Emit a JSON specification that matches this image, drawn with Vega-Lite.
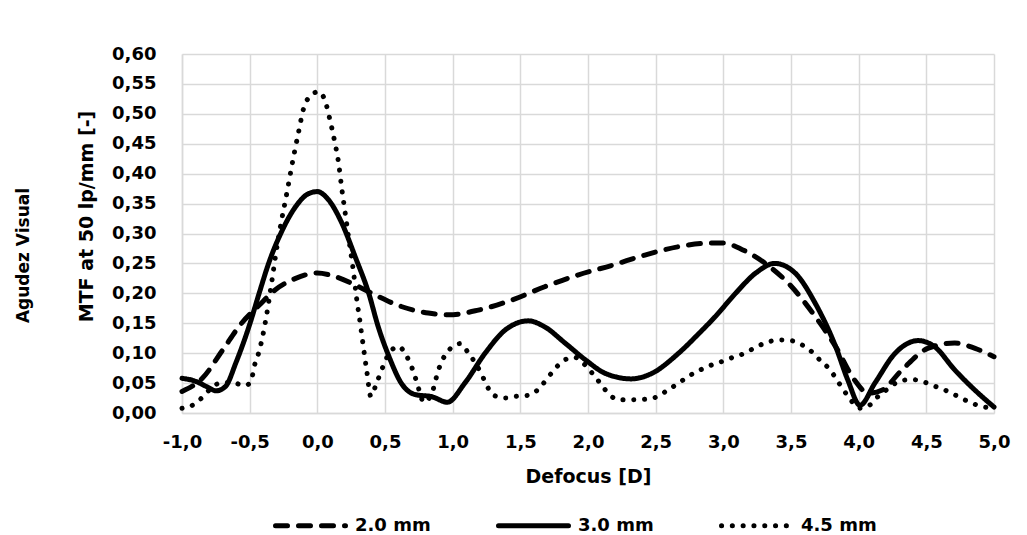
{
  "$schema": "https://vega.github.io/schema/vega-lite/v6.json",
  "width": 812,
  "height": 359,
  "autosize": {"type": "none"},
  "padding": {"left": 182, "top": 54, "right": 33, "bottom": 122},
  "background": "white",
  "title": {
    "text": "Agudez Visual",
    "orient": "left",
    "anchor": "middle",
    "frame": "group",
    "offset": 44,
    "dx": -22,
    "font": "DejaVu Sans",
    "fontSize": 17,
    "fontWeight": "bold",
    "color": "#000000"
  },
  "config": {
    "locale": {"number": {"decimal": ",", "thousands": ".", "grouping": [3], "currency": ["", " €"], "minus": "-"}},
    "view": {"stroke": null},
    "axis": {
      "labelFont": "DejaVu Sans",
      "labelFontSize": 18,
      "labelFontWeight": "bold",
      "labelColor": "#000000",
      "labelOverlap": false,
      "labelFlush": false,
      "titleFont": "DejaVu Sans",
      "titleFontSize": 19,
      "titleFontWeight": "bold",
      "titleColor": "#000000",
      "grid": true,
      "gridColor": "#d9d9d9",
      "gridWidth": 1.5,
      "domainColor": "#d9d9d9",
      "domainWidth": 1.5,
      "ticks": false,
      "tickSize": 0
    },
    "legend": {
      "labelFont": "DejaVu Sans",
      "labelFontSize": 18,
      "labelFontWeight": "bold",
      "labelColor": "#000000"
    }
  },
  "data": {
    "values": [
      {"d": -1.0, "mtf": 0.036, "s": "2.0 mm"},
      {"d": -0.85, "mtf": 0.058, "s": "2.0 mm"},
      {"d": -0.7, "mtf": 0.105, "s": "2.0 mm"},
      {"d": -0.56, "mtf": 0.15, "s": "2.0 mm"},
      {"d": -0.43, "mtf": 0.18, "s": "2.0 mm"},
      {"d": -0.31, "mtf": 0.206, "s": "2.0 mm"},
      {"d": -0.16, "mtf": 0.225, "s": "2.0 mm"},
      {"d": 0.0, "mtf": 0.234, "s": "2.0 mm"},
      {"d": 0.13, "mtf": 0.228, "s": "2.0 mm"},
      {"d": 0.28, "mtf": 0.214, "s": "2.0 mm"},
      {"d": 0.43, "mtf": 0.197, "s": "2.0 mm"},
      {"d": 0.62, "mtf": 0.178, "s": "2.0 mm"},
      {"d": 0.82, "mtf": 0.167, "s": "2.0 mm"},
      {"d": 0.97, "mtf": 0.164, "s": "2.0 mm"},
      {"d": 1.19, "mtf": 0.172, "s": "2.0 mm"},
      {"d": 1.44, "mtf": 0.189, "s": "2.0 mm"},
      {"d": 1.68, "mtf": 0.211, "s": "2.0 mm"},
      {"d": 1.93, "mtf": 0.231, "s": "2.0 mm"},
      {"d": 2.18, "mtf": 0.247, "s": "2.0 mm"},
      {"d": 2.42, "mtf": 0.264, "s": "2.0 mm"},
      {"d": 2.67, "mtf": 0.278, "s": "2.0 mm"},
      {"d": 2.91, "mtf": 0.284, "s": "2.0 mm"},
      {"d": 3.0, "mtf": 0.284, "s": "2.0 mm"},
      {"d": 3.14, "mtf": 0.273, "s": "2.0 mm"},
      {"d": 3.31, "mtf": 0.25, "s": "2.0 mm"},
      {"d": 3.48, "mtf": 0.217, "s": "2.0 mm"},
      {"d": 3.68, "mtf": 0.161, "s": "2.0 mm"},
      {"d": 3.83, "mtf": 0.111, "s": "2.0 mm"},
      {"d": 3.97, "mtf": 0.055, "s": "2.0 mm"},
      {"d": 4.07, "mtf": 0.033, "s": "2.0 mm"},
      {"d": 4.17, "mtf": 0.038, "s": "2.0 mm"},
      {"d": 4.32, "mtf": 0.072, "s": "2.0 mm"},
      {"d": 4.51, "mtf": 0.108, "s": "2.0 mm"},
      {"d": 4.71, "mtf": 0.117, "s": "2.0 mm"},
      {"d": 4.86, "mtf": 0.108, "s": "2.0 mm"},
      {"d": 5.0, "mtf": 0.094, "s": "2.0 mm"},

      {"d": -1.0, "mtf": 0.058, "s": "3.0 mm"},
      {"d": -0.9, "mtf": 0.053, "s": "3.0 mm"},
      {"d": -0.8, "mtf": 0.042, "s": "3.0 mm"},
      {"d": -0.75, "mtf": 0.037, "s": "3.0 mm"},
      {"d": -0.68, "mtf": 0.044, "s": "3.0 mm"},
      {"d": -0.6, "mtf": 0.085, "s": "3.0 mm"},
      {"d": -0.5, "mtf": 0.148, "s": "3.0 mm"},
      {"d": -0.43, "mtf": 0.2, "s": "3.0 mm"},
      {"d": -0.36, "mtf": 0.25, "s": "3.0 mm"},
      {"d": -0.26, "mtf": 0.305, "s": "3.0 mm"},
      {"d": -0.16, "mtf": 0.345, "s": "3.0 mm"},
      {"d": -0.07, "mtf": 0.366, "s": "3.0 mm"},
      {"d": 0.0, "mtf": 0.37, "s": "3.0 mm"},
      {"d": 0.08, "mtf": 0.357, "s": "3.0 mm"},
      {"d": 0.18, "mtf": 0.318, "s": "3.0 mm"},
      {"d": 0.28, "mtf": 0.261, "s": "3.0 mm"},
      {"d": 0.38, "mtf": 0.2, "s": "3.0 mm"},
      {"d": 0.45, "mtf": 0.144, "s": "3.0 mm"},
      {"d": 0.53, "mtf": 0.094, "s": "3.0 mm"},
      {"d": 0.62, "mtf": 0.05, "s": "3.0 mm"},
      {"d": 0.72, "mtf": 0.031, "s": "3.0 mm"},
      {"d": 0.85, "mtf": 0.027, "s": "3.0 mm"},
      {"d": 0.96, "mtf": 0.018, "s": "3.0 mm"},
      {"d": 1.09, "mtf": 0.05, "s": "3.0 mm"},
      {"d": 1.24, "mtf": 0.1, "s": "3.0 mm"},
      {"d": 1.39, "mtf": 0.139, "s": "3.0 mm"},
      {"d": 1.56, "mtf": 0.154, "s": "3.0 mm"},
      {"d": 1.68, "mtf": 0.144, "s": "3.0 mm"},
      {"d": 1.83, "mtf": 0.117, "s": "3.0 mm"},
      {"d": 1.98, "mtf": 0.089, "s": "3.0 mm"},
      {"d": 2.13, "mtf": 0.066, "s": "3.0 mm"},
      {"d": 2.32, "mtf": 0.057, "s": "3.0 mm"},
      {"d": 2.47, "mtf": 0.066, "s": "3.0 mm"},
      {"d": 2.67, "mtf": 0.1, "s": "3.0 mm"},
      {"d": 2.82, "mtf": 0.133, "s": "3.0 mm"},
      {"d": 2.94, "mtf": 0.161, "s": "3.0 mm"},
      {"d": 3.09, "mtf": 0.2, "s": "3.0 mm"},
      {"d": 3.24, "mtf": 0.234, "s": "3.0 mm"},
      {"d": 3.38, "mtf": 0.25, "s": "3.0 mm"},
      {"d": 3.53, "mtf": 0.234, "s": "3.0 mm"},
      {"d": 3.68, "mtf": 0.183, "s": "3.0 mm"},
      {"d": 3.83, "mtf": 0.111, "s": "3.0 mm"},
      {"d": 3.92, "mtf": 0.055, "s": "3.0 mm"},
      {"d": 4.01, "mtf": 0.013, "s": "3.0 mm"},
      {"d": 4.12, "mtf": 0.05, "s": "3.0 mm"},
      {"d": 4.27, "mtf": 0.1, "s": "3.0 mm"},
      {"d": 4.44, "mtf": 0.121, "s": "3.0 mm"},
      {"d": 4.56, "mtf": 0.111, "s": "3.0 mm"},
      {"d": 4.71, "mtf": 0.072, "s": "3.0 mm"},
      {"d": 4.86, "mtf": 0.038, "s": "3.0 mm"},
      {"d": 5.0, "mtf": 0.01, "s": "3.0 mm"},

      {"d": -1.0, "mtf": 0.008, "s": "4.5 mm"},
      {"d": -0.94, "mtf": 0.011, "s": "4.5 mm"},
      {"d": -0.865, "mtf": 0.023, "s": "4.5 mm"},
      {"d": -0.8, "mtf": 0.038, "s": "4.5 mm"},
      {"d": -0.72, "mtf": 0.05, "s": "4.5 mm"},
      {"d": -0.63, "mtf": 0.051, "s": "4.5 mm"},
      {"d": -0.54, "mtf": 0.046, "s": "4.5 mm"},
      {"d": -0.496, "mtf": 0.05, "s": "4.5 mm"},
      {"d": -0.46, "mtf": 0.083, "s": "4.5 mm"},
      {"d": -0.434, "mtf": 0.1, "s": "4.5 mm"},
      {"d": -0.41, "mtf": 0.122, "s": "4.5 mm"},
      {"d": -0.377, "mtf": 0.161, "s": "4.5 mm"},
      {"d": -0.335, "mtf": 0.222, "s": "4.5 mm"},
      {"d": -0.306, "mtf": 0.267, "s": "4.5 mm"},
      {"d": -0.27, "mtf": 0.315, "s": "4.5 mm"},
      {"d": -0.225, "mtf": 0.368, "s": "4.5 mm"},
      {"d": -0.176, "mtf": 0.428, "s": "4.5 mm"},
      {"d": -0.14, "mtf": 0.468, "s": "4.5 mm"},
      {"d": -0.1, "mtf": 0.51, "s": "4.5 mm"},
      {"d": -0.06, "mtf": 0.528, "s": "4.5 mm"},
      {"d": 0.01, "mtf": 0.537, "s": "4.5 mm"},
      {"d": 0.06, "mtf": 0.52, "s": "4.5 mm"},
      {"d": 0.088, "mtf": 0.495, "s": "4.5 mm"},
      {"d": 0.125, "mtf": 0.457, "s": "4.5 mm"},
      {"d": 0.157, "mtf": 0.418, "s": "4.5 mm"},
      {"d": 0.18, "mtf": 0.376, "s": "4.5 mm"},
      {"d": 0.206, "mtf": 0.334, "s": "4.5 mm"},
      {"d": 0.23, "mtf": 0.295, "s": "4.5 mm"},
      {"d": 0.267, "mtf": 0.236, "s": "4.5 mm"},
      {"d": 0.29, "mtf": 0.192, "s": "4.5 mm"},
      {"d": 0.317, "mtf": 0.15, "s": "4.5 mm"},
      {"d": 0.34, "mtf": 0.111, "s": "4.5 mm"},
      {"d": 0.366, "mtf": 0.069, "s": "4.5 mm"},
      {"d": 0.395, "mtf": 0.028, "s": "4.5 mm"},
      {"d": 0.433, "mtf": 0.047, "s": "4.5 mm"},
      {"d": 0.465, "mtf": 0.066, "s": "4.5 mm"},
      {"d": 0.5, "mtf": 0.086, "s": "4.5 mm"},
      {"d": 0.54, "mtf": 0.103, "s": "4.5 mm"},
      {"d": 0.6, "mtf": 0.111, "s": "4.5 mm"},
      {"d": 0.66, "mtf": 0.095, "s": "4.5 mm"},
      {"d": 0.7, "mtf": 0.075, "s": "4.5 mm"},
      {"d": 0.73, "mtf": 0.055, "s": "4.5 mm"},
      {"d": 0.755, "mtf": 0.036, "s": "4.5 mm"},
      {"d": 0.785, "mtf": 0.018, "s": "4.5 mm"},
      {"d": 0.846, "mtf": 0.033, "s": "4.5 mm"},
      {"d": 0.895, "mtf": 0.072, "s": "4.5 mm"},
      {"d": 0.93, "mtf": 0.091, "s": "4.5 mm"},
      {"d": 0.98, "mtf": 0.107, "s": "4.5 mm"},
      {"d": 1.055, "mtf": 0.116, "s": "4.5 mm"},
      {"d": 1.117, "mtf": 0.1, "s": "4.5 mm"},
      {"d": 1.166, "mtf": 0.084, "s": "4.5 mm"},
      {"d": 1.215, "mtf": 0.064, "s": "4.5 mm"},
      {"d": 1.25, "mtf": 0.047, "s": "4.5 mm"},
      {"d": 1.3, "mtf": 0.03, "s": "4.5 mm"},
      {"d": 1.39, "mtf": 0.025, "s": "4.5 mm"},
      {"d": 1.47, "mtf": 0.028, "s": "4.5 mm"},
      {"d": 1.57, "mtf": 0.03, "s": "4.5 mm"},
      {"d": 1.65, "mtf": 0.044, "s": "4.5 mm"},
      {"d": 1.7, "mtf": 0.058, "s": "4.5 mm"},
      {"d": 1.76, "mtf": 0.075, "s": "4.5 mm"},
      {"d": 1.83, "mtf": 0.089, "s": "4.5 mm"},
      {"d": 1.9, "mtf": 0.093, "s": "4.5 mm"},
      {"d": 1.98, "mtf": 0.08, "s": "4.5 mm"},
      {"d": 2.04, "mtf": 0.064, "s": "4.5 mm"},
      {"d": 2.1, "mtf": 0.047, "s": "4.5 mm"},
      {"d": 2.16, "mtf": 0.03, "s": "4.5 mm"},
      {"d": 2.24, "mtf": 0.022, "s": "4.5 mm"},
      {"d": 2.32, "mtf": 0.022, "s": "4.5 mm"},
      {"d": 2.42, "mtf": 0.023, "s": "4.5 mm"},
      {"d": 2.51, "mtf": 0.027, "s": "4.5 mm"},
      {"d": 2.58, "mtf": 0.037, "s": "4.5 mm"},
      {"d": 2.67, "mtf": 0.05, "s": "4.5 mm"},
      {"d": 2.74, "mtf": 0.061, "s": "4.5 mm"},
      {"d": 2.82, "mtf": 0.071, "s": "4.5 mm"},
      {"d": 2.9, "mtf": 0.079, "s": "4.5 mm"},
      {"d": 2.99, "mtf": 0.086, "s": "4.5 mm"},
      {"d": 3.07, "mtf": 0.093, "s": "4.5 mm"},
      {"d": 3.16, "mtf": 0.1, "s": "4.5 mm"},
      {"d": 3.24, "mtf": 0.11, "s": "4.5 mm"},
      {"d": 3.32, "mtf": 0.118, "s": "4.5 mm"},
      {"d": 3.41, "mtf": 0.122, "s": "4.5 mm"},
      {"d": 3.5, "mtf": 0.121, "s": "4.5 mm"},
      {"d": 3.58, "mtf": 0.114, "s": "4.5 mm"},
      {"d": 3.65, "mtf": 0.103, "s": "4.5 mm"},
      {"d": 3.72, "mtf": 0.087, "s": "4.5 mm"},
      {"d": 3.79, "mtf": 0.072, "s": "4.5 mm"},
      {"d": 3.84, "mtf": 0.055, "s": "4.5 mm"},
      {"d": 3.89, "mtf": 0.038, "s": "4.5 mm"},
      {"d": 3.94, "mtf": 0.022, "s": "4.5 mm"},
      {"d": 4.01, "mtf": 0.008, "s": "4.5 mm"},
      {"d": 4.08, "mtf": 0.013, "s": "4.5 mm"},
      {"d": 4.14, "mtf": 0.027, "s": "4.5 mm"},
      {"d": 4.22, "mtf": 0.041, "s": "4.5 mm"},
      {"d": 4.29, "mtf": 0.052, "s": "4.5 mm"},
      {"d": 4.39, "mtf": 0.056, "s": "4.5 mm"},
      {"d": 4.48, "mtf": 0.052, "s": "4.5 mm"},
      {"d": 4.56, "mtf": 0.045, "s": "4.5 mm"},
      {"d": 4.65, "mtf": 0.037, "s": "4.5 mm"},
      {"d": 4.74, "mtf": 0.027, "s": "4.5 mm"},
      {"d": 4.83, "mtf": 0.017, "s": "4.5 mm"},
      {"d": 4.91, "mtf": 0.011, "s": "4.5 mm"},
      {"d": 5.0, "mtf": 0.008, "s": "4.5 mm"}
    ]
  },
  "mark": {
    "type": "line",
    "color": "#000000",
    "strokeWidth": 5,
    "strokeCap": "round",
    "strokeJoin": "round",
    "interpolate": "monotone"
  },
  "encoding": {
    "x": {
      "field": "d",
      "type": "quantitative",
      "scale": {"domain": [-1, 5], "nice": false, "zero": false},
      "axis": {
        "title": "Defocus [D]",
        "values": [-1, -0.5, 0, 0.5, 1, 1.5, 2, 2.5, 3, 3.5, 4, 4.5, 5],
        "format": ".1f",
        "labelPadding": 20,
        "titlePadding": 16
      }
    },
    "y": {
      "field": "mtf",
      "type": "quantitative",
      "scale": {"domain": [0, 0.6], "nice": false},
      "axis": {
        "title": "MTF at 50 lp/mm [-]",
        "values": [0, 0.05, 0.1, 0.15, 0.2, 0.25, 0.3, 0.35, 0.4, 0.45, 0.5, 0.55, 0.6],
        "format": ".2f",
        "labelPadding": 26,
        "titleX": -96,
        "titleY": 162,
        "titleAlign": "center",
        "titleBaseline": "middle",
        "titleAngle": -90
      }
    },
    "strokeDash": {
      "field": "s",
      "type": "nominal",
      "scale": {
        "domain": ["2.0 mm", "3.0 mm", "4.5 mm"],
        "range": [[12, 11], [1, 0], [0.1, 10.7]]
      },
      "legend": {
        "title": null,
        "orient": "none",
        "direction": "horizontal",
        "legendX": 91,
        "legendY": 434,
        "symbolType": "stroke",
        "symbolSize": 4900,
        "symbolStrokeWidth": 5,
        "symbolStrokeColor": "#000000",
        "labelOffset": 7,
        "columnPadding": 57,
        "padding": 0,
        "encode": {
          "symbols": {"update": {"strokeCap": {"value": "round"}, "stroke": {"value": "#000000"}, "strokeWidth": {"value": 5}}}
        }
      }
    }
  }
}
